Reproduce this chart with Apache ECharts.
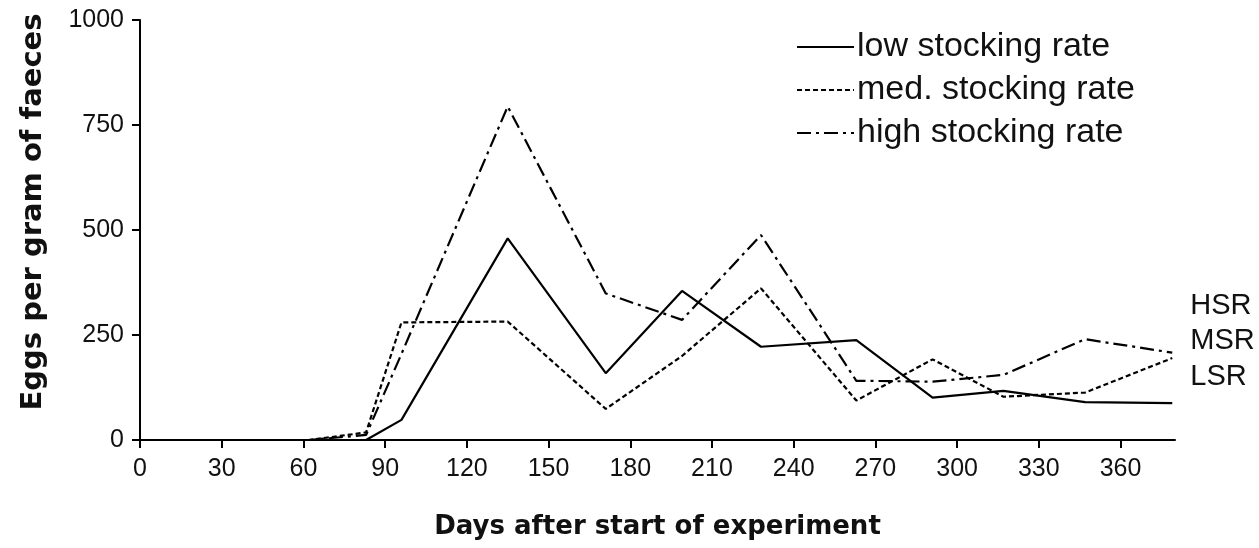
<!DOCTYPE html>
<html>
<head>
<meta charset="utf-8">
<script src="https://cdn.jsdelivr.net/npm/echarts@6/dist/echarts.min.js"></script>
<style>
html,body{margin:0;padding:0;background:#fff;}
#chart{width:1259px;height:548px;}
</style>
</head>
<body>
<div id="chart"></div>
<script>
// Sampling days (x values)
var days = [0, 30, 62, 83, 96, 135, 171, 199, 228, 263, 291, 317, 347, 379];
// Eggs per gram of faeces
var lowRate  = [0, 0, 0, 0, 48, 480, 159, 355, 222, 238, 101, 117, 90, 88];
var medRate  = [0, 0, 0, 18, 280, 282, 74, 200, 361, 94, 192, 103, 113, 195];
var highRate = [0, 0, 0, 12, 205, 794, 349, 286, 488, 141, 139, 155, 240, 208];
var seriesNames = ['low stocking rate', 'med. stocking rate', 'high stocking rate'];
var endTags = ['LSR', 'MSR', 'HSR'];
var xTicks = [0, 30, 60, 90, 120, 150, 180, 210, 240, 270, 300, 330, 360];

function pairs(vals) {
  return days.map(function (d, i) { return [d, vals[i]]; });
}

var FONT = '"Liberation Sans", Arial, sans-serif';
var BOLD = '"DejaVu Sans", "Liberation Sans", sans-serif';
var chart = echarts.init(document.getElementById('chart'));

var dashes = ['solid', [5, 3], [14, 5, 3, 5]];
var tagOffsets = [[10, -26], [10, -17], [10, -47]];
var allVals = [lowRate, medRate, highRate];

chart.setOption({
  animation: false,
  backgroundColor: '#fff',
  grid: { left: 140, right: 84, top: 20, bottom: 108 },
  legend: {
    orient: 'vertical',
    left: 791,
    top: 25,
    itemWidth: 57,
    itemHeight: 20,
    itemGap: 9,
    itemStyle: { opacity: 0 },
    textStyle: { fontFamily: FONT, fontSize: 34, color: '#111', padding: [0, 0, 0, -2] },
    data: seriesNames
  },
  xAxis: {
    type: 'value',
    min: 0,
    max: 380,
    interval: 30,
    name: 'Days after start of experiment',
    nameLocation: 'middle',
    nameGap: 74,
    nameTextStyle: { fontFamily: BOLD, fontSize: 26, fontWeight: 'bold', color: '#111' },
    axisLine: { lineStyle: { color: '#000', width: 2 } },
    axisTick: { show: true, length: 8, lineStyle: { color: '#000', width: 2 }, customValues: xTicks },
    axisLabel: { fontFamily: FONT, fontSize: 25, color: '#111', margin: 17, customValues: xTicks },
    splitLine: { show: false }
  },
  yAxis: {
    type: 'value',
    min: 0,
    max: 1000,
    interval: 250,
    name: 'Eggs per gram of faeces',
    nameLocation: 'middle',
    nameGap: 92,
    nameTextStyle: { fontFamily: BOLD, fontSize: 29, fontWeight: 'bold', color: '#111', padding: [0, 0, 0, 36] },
    axisLine: { show: true, lineStyle: { color: '#000', width: 2 } },
    axisTick: { show: true, length: 8, lineStyle: { color: '#000', width: 2 } },
    axisLabel: { fontFamily: FONT, fontSize: 25, color: '#111', margin: 16, formatter: function (v) { return String(v); } },
    splitLine: { show: false }
  },
  series: seriesNames.map(function (name, i) {
    return {
      name: name,
      type: 'line',
      data: pairs(allVals[i]),
      symbol: 'none',
      color: '#000',
      lineStyle: { color: '#000', width: 2.2, type: dashes[i] },
      endLabel: {
        show: true,
        formatter: endTags[i],
        fontFamily: FONT,
        fontSize: 29,
        color: '#111',
        offset: tagOffsets[i]
      },
      z: 3 - i
    };
  })
});
</script>
</body>
</html>
